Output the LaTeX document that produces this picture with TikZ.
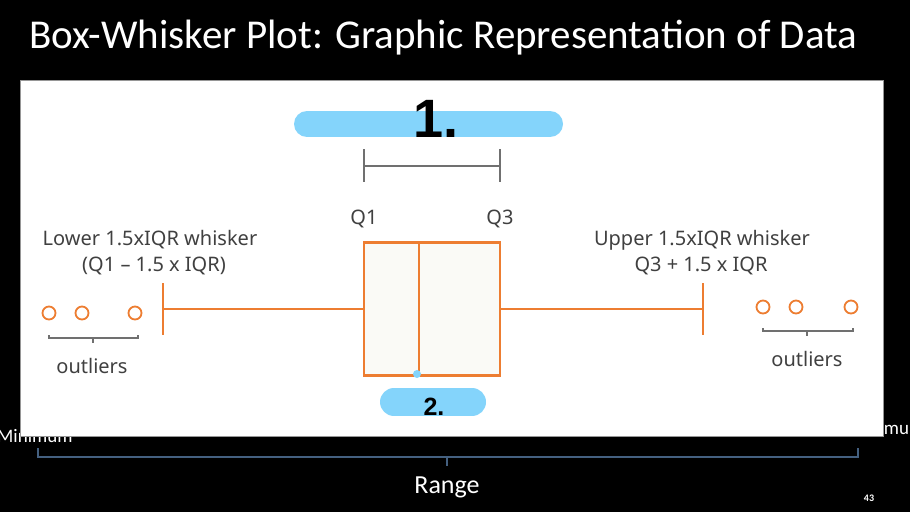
\documentclass[tikz,border=0pt]{standalone}
\usepackage{fontspec}
\setmainfont{Noto Sans}
\newfontfamily\slidefont{Carlito}
\newfontfamily\handfont{Liberation Sans}
\definecolor{bw_orange}{RGB}{237, 125, 49}
\definecolor{bw_fill}{RGB}{250, 250, 246}
\definecolor{bw_text}{RGB}{64, 64, 64}
\definecolor{bw_gray}{RGB}{112, 112, 112}
\definecolor{bw_mark}{RGB}{132, 212, 251}
\definecolor{bw_range}{RGB}{68, 96, 128}
\definecolor{bw_edge}{RGB}{150, 150, 150}
\tikzstyle{box}=[rectangle,fill=bw_fill,draw=bw_orange,line width=2.4pt,
  minimum width=136pt,minimum height=133pt,inner sep=0pt]
\tikzstyle{odot}=[circle,draw=bw_orange,line width=1.8pt,
  minimum size=13pt,inner sep=0pt]
\tikzstyle{lbl}=[text=bw_text,font=\fontsize{20}{24}\selectfont,
  inner sep=0pt,anchor=base]
\tikzstyle{slide}=[text=white,font=\slidefont\fontsize{19}{23}\selectfont,
  inner sep=0pt]
\tikzstyle{hl}=[draw=bw_mark,line width=26pt,line cap=round]
\tikzstyle{hand}=[text=black,inner sep=0pt,anchor=base]
\tikzstyle{none}=[]

\begin{document}
\begin{tikzpicture}[x=1pt, y=-1pt]
  \useasboundingbox (0, 0) rectangle (910, 512);
  \fill [black] (0, 0) rectangle (910, 512);
  \clip (0, 0) rectangle (910, 512);
  \node [style=slide, anchor=base west, font=\slidefont\fontsize{41}{46}\selectfont] (30) at (29, 48) {Box-Whisker Plot: Graphic Representation of Data};
  \node [style=slide, anchor=base west] (31) at (-3, 442) {Minimum};
  \node [style=slide, anchor=base west] (32) at (846, 434) {Maximum};
  \node [style=slide, anchor=base, font=\slidefont\fontsize{26}{30}\selectfont] (33) at (447, 493) {Range};
  \node [style=slide, font=\slidefont\bfseries\fontsize{10}{12}\selectfont] (34) at (869, 498) {43};
  \node [style=none] (35) at (38, 448) {};
  \node [style=none] (36) at (858, 448) {};
  \node [style=none] (37) at (447, 457) {};
  \node [style=none] (38) at (447, 466) {};
  \draw [bw_range, line width=1.6pt] (35.center) |- (37.center) -| (36.center);
  \draw [bw_range, line width=1.6pt] (37.center) to (38.center);
  % panel
  \filldraw [fill=white, draw=bw_edge, line width=0.8pt] (20, 80) rectangle (883, 436);
  % box and whiskers
  \node [style=box] (0) at (432, 309) {};
  \node [style=none] (1) at (163, 309) {};
  \node [style=none] (2) at (163, 283) {};
  \node [style=none] (3) at (163, 335) {};
  \node [style=none] (4) at (703, 309) {};
  \node [style=none] (5) at (703, 283) {};
  \node [style=none] (6) at (703, 335) {};
  \node [style=none] (7) at (419, 243) {};
  \node [style=none] (8) at (419, 375) {};
  \draw [bw_orange, line width=2.2pt] (1.center) to (0.west);
  \draw [bw_orange, line width=2.2pt] (0.east) to (4.center);
  \draw [bw_orange, line width=2.2pt] (2.center) to (3.center);
  \draw [bw_orange, line width=2.2pt] (5.center) to (6.center);
  \draw [bw_orange, line width=2.4pt] (7.center) to (8.center);
  % outliers
  \node [style=odot] (9) at (49, 313) {};
  \node [style=odot] (10) at (82, 313) {};
  \node [style=odot] (11) at (135, 313) {};
  \node [style=odot] (12) at (763, 307) {};
  \node [style=odot] (13) at (796, 307) {};
  \node [style=odot] (14) at (851, 307) {};
  \node [style=none] (15) at (49, 335) {};
  \node [style=none] (16) at (138, 335) {};
  \node [style=none] (17) at (93, 338) {};
  \node [style=none] (18) at (93, 343) {};
  \node [style=none] (19) at (763, 328) {};
  \node [style=none] (20) at (853, 328) {};
  \node [style=none] (21) at (807, 331) {};
  \node [style=none] (22) at (807, 336) {};
  \draw [bw_gray, line width=1.2pt] (15.center) |- (17.center) -| (16.center);
  \draw [bw_gray, line width=1.2pt] (17.center) to (18.center);
  \draw [bw_gray, line width=1.2pt] (19.center) |- (21.center) -| (20.center);
  \draw [bw_gray, line width=1.2pt] (21.center) to (22.center);
  % IQR bracket
  \node [style=none] (23) at (364, 149) {};
  \node [style=none] (24) at (364, 182) {};
  \node [style=none] (25) at (500, 149) {};
  \node [style=none] (26) at (500, 182) {};
  \node [style=none] (27) at (364, 166) {};
  \node [style=none] (28) at (500, 166) {};
  \draw [bw_gray, line width=1.4pt] (23.center) to (24.center);
  \draw [bw_gray, line width=1.4pt] (25.center) to (26.center);
  \draw [bw_gray, line width=1.4pt] (27.center) to (28.center);
  % labels
  \node [style=lbl] (50) at (364, 224) {Q1};
  \node [style=lbl] (51) at (500, 224) {Q3};
  \node [style=lbl] (52) at (150, 245) {Lower 1.5xIQR whisker};
  \node [style=lbl] (53) at (154, 271) {(Q1 – 1.5 x IQR)};
  \node [style=lbl] (54) at (702, 245) {Upper 1.5xIQR whisker};
  \node [style=lbl] (55) at (701, 271) {Q3 + 1.5 x IQR};
  \node [style=lbl] (56) at (92, 373) {outliers};
  \node [style=lbl] (57) at (807, 366) {outliers};
  % marker notes
  \node [style=none] (60) at (307, 124) {};
  \node [style=none] (61) at (550, 124) {};
  \draw [style=hl] (60.center) to (61.center);
  \node [style=none] (62) at (394, 402) {};
  \node [style=none] (63) at (472, 402) {};
  \draw [style=hl, line width=28pt] (62.center) to (63.center);
  \node [style=hand, font=\handfont\bfseries\fontsize{54}{60}\selectfont] (64) at (436, 137) {1.};
  \node [style=hand, font=\handfont\bfseries\fontsize{25}{30}\selectfont] (65) at (434, 415) {2.};
  \fill [bw_mark] (417, 374) circle (4);
\end{tikzpicture}
\end{document}
